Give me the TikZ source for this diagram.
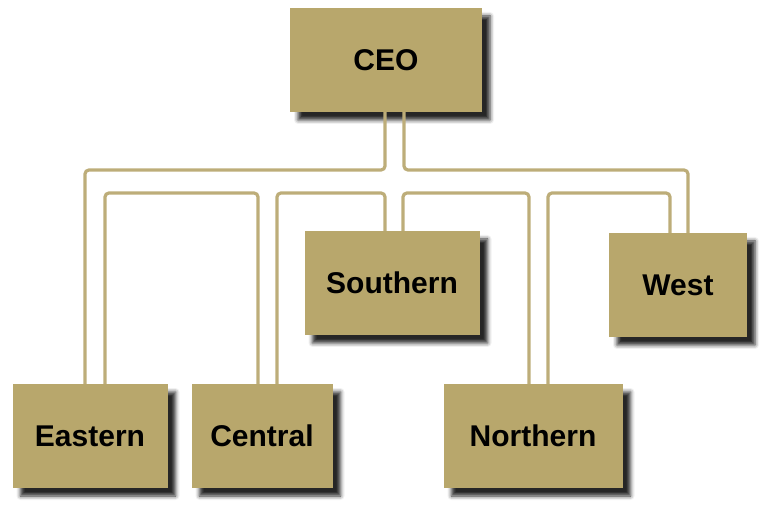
\documentclass[tikz,border=0pt]{standalone}
\usepackage{fontspec}
\setmainfont{Liberation Sans}
\usetikzlibrary{shadows.blur}
\definecolor{unitback}{RGB}{184,167,108}
\definecolor{unitline}{RGB}{189,173,121}

\tikzset{
  unit/.style={fill=unitback,inner sep=0pt,minimum height=104pt,
    blur shadow={shadow xshift=8pt,shadow yshift=-8pt,shadow blur radius=4pt,shadow opacity=85},
    font=\fontsize{30}{36}\selectfont\bfseries},
  link/.style={draw=unitline,line width=3.2pt,rounded corners=4pt}
}

\begin{document}
\begin{tikzpicture}[x=1pt,y=1pt]
\useasboundingbox (0,0) rectangle (769,515);

\node [unit,minimum width=192pt] (ceo) at (386,455) {CEO};
\node [unit,minimum width=175pt] (southern) at (392,232) {Southern};
\node [unit,minimum width=138pt] (west) at (678,230) {West};
\node [unit,minimum width=155pt] (eastern) at (90,79) {Eastern};
\node [unit,minimum width=141pt] (central) at (262,79) {Central};
\node [unit,minimum width=179pt] (northern) at (533,79) {Northern};

% legs on the boxes
\coordinate (ceoL) at ([xshift=-1pt]ceo.south);
\coordinate (ceoR) at ([xshift=18pt]ceo.south);
\coordinate (eastL) at ([xshift=-5pt]eastern.north);
\coordinate (eastR) at ([xshift=15pt]eastern.north);
\coordinate (centL) at ([xshift=-4pt]central.north);
\coordinate (centR) at ([xshift=15pt]central.north);
\coordinate (southL) at ([xshift=-7pt]southern.north);
\coordinate (southR) at ([xshift=11pt]southern.north);
\coordinate (northL) at ([xshift=-4pt]northern.north);
\coordinate (northR) at ([xshift=15pt]northern.north);
\coordinate (westL) at ([xshift=-8pt]west.north);
\coordinate (westR) at ([xshift=10pt]west.north);
\coordinate (bus1) at (0,345);
\coordinate (bus2) at (0,322);

\draw [link] (ceoL) -- (ceoL |- bus1) -| (eastL);
\draw [link] (ceoR) -- (ceoR |- bus1) -| (westR);
\draw [link] (eastR) -- (eastR |- bus2) -| (centL);
\draw [link] (centR) -- (centR |- bus2) -| (southL);
\draw [link] (southR) -- (southR |- bus2) -| (northL);
\draw [link] (northR) -- (northR |- bus2) -| (westL);
\end{tikzpicture}
\end{document}
